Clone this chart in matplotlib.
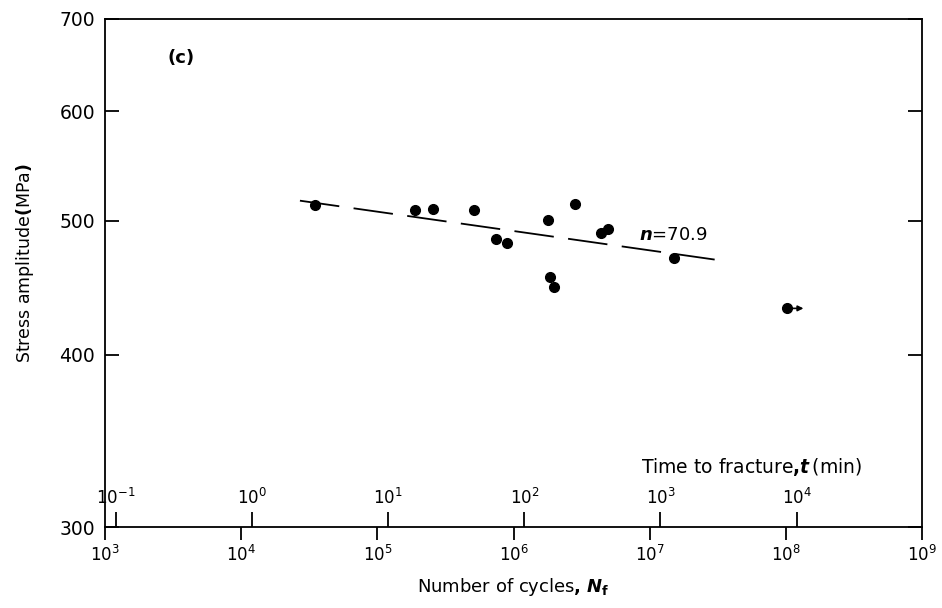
import matplotlib
matplotlib.use('Agg')
import matplotlib.pyplot as plt
from matplotlib.ticker import FixedLocator, FixedFormatter, NullLocator, LogFormatterMathtext

plt.rcParams['font.family'] = ['DejaVu Sans']
plt.rcParams['mathtext.fontset'] = 'dejavusans'

# fatigue data: number of cycles to failure vs stress amplitude
cycles = [3.5e4, 1.9e5, 2.55e5, 5.1e5, 7.4e5, 9.0e5, 1.78e6, 2.85e6,
          1.84e6, 1.97e6, 4.4e6, 4.9e6, 1.5e7]
stress = [513, 509, 510, 509, 485, 482, 501, 514,
          455, 448, 490, 493, 470]
# run-out specimen (no fracture)
runout_cycles = [1.02e8]
runout_stress = [432]

# fitted line, n = 70.9
fit_cycles = [2.7e4, 3.3e7]
fit_stress = [517, 468]

y_ticks = [300, 400, 500, 600, 700]
x_ticks = [1e3, 1e4, 1e5, 1e6, 1e7, 1e8, 1e9]
time_ticks = [1e-1, 1e0, 1e1, 1e2, 1e3, 1e4]
cycles_per_min = 12000.0  # 200 Hz

fig = plt.figure(figsize=(9.42, 6.08), dpi=100)
ax = fig.add_axes([0.1115, 0.1332, 0.8673, 0.8356])

ax.plot(fit_cycles, fit_stress, color='black', lw=1.3, dashes=(22, 8))
ax.plot(cycles, stress, 'o', color='black', ms=7)
ax.plot(runout_cycles, runout_stress, 'o', color='black', ms=7)
ax.annotate('', xy=(runout_cycles[0] * 1.32, runout_stress[0]),
            xytext=(runout_cycles[0], runout_stress[0]),
            arrowprops=dict(arrowstyle='-|>', color='black', lw=1.2,
                            mutation_scale=8, shrinkA=0, shrinkB=0))

ax.set_xscale('log')
ax.set_yscale('log')
ax.set_xlim(1e3, 1e9)
ax.set_ylim(300, 700)

ax.xaxis.set_major_locator(FixedLocator(x_ticks))
ax.xaxis.set_major_formatter(LogFormatterMathtext())
ax.xaxis.set_minor_locator(NullLocator())
ax.yaxis.set_major_locator(FixedLocator(y_ticks))
ax.yaxis.set_major_formatter(FixedFormatter([str(v) for v in y_ticks]))
ax.yaxis.set_minor_locator(NullLocator())

ax.tick_params(axis='x', direction='out', length=9, width=1.3, labelsize=12, pad=4)
ax.tick_params(axis='y', direction='in', length=10, width=1.3, labelsize=13.5,
               left=True, right=True, pad=7)
for s in ax.spines.values():
    s.set_linewidth(1.3)

# time to fracture scale along the bottom
secax = ax.secondary_xaxis(0.0, functions=(lambda n: n / cycles_per_min,
                                           lambda t: t * cycles_per_min))
secax.set_alignment('top')
secax.xaxis.set_major_locator(FixedLocator(time_ticks))
secax.xaxis.set_major_formatter(LogFormatterMathtext())
secax.xaxis.set_minor_locator(NullLocator())
secax.tick_params(axis='x', direction='out', length=11, width=1.3, labelsize=12, pad=3)
secax.spines['top'].set_visible(False)

ax.text(0.927, 0.118, r'Time to fracture$\mathbf{,}\mathbfit{t}\,$(min)',
        transform=ax.transAxes, ha='right', va='center', fontsize=13.5)

ax.text(0.076, 0.923, '(c)', transform=ax.transAxes, fontsize=13, fontweight='bold',
        va='center')
ax.text(8.3e6, 481, r'$\mathbfit{n}$=70.9', fontsize=13, va='bottom')

ax.set_xlabel(r'Number of cycles$\mathbf{,}\ \mathbfit{N}_{\mathbf{f}}$', fontsize=13, labelpad=8)
ax.set_ylabel(r'Stress amplitude$\mathbf{(}$MPa$\mathbf{)}$', fontsize=12.5)
ax.yaxis.set_label_coords(-0.085, 0.52)

fig.savefig('out.png', dpi=100)
